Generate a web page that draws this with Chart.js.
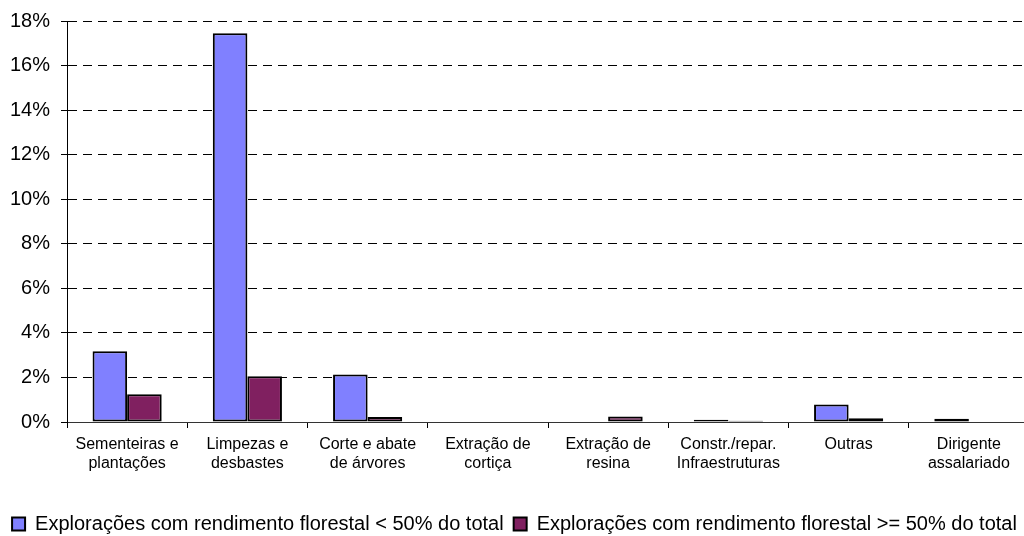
<!DOCTYPE html>
<html>
<head>
<meta charset="utf-8">
<script src="https://cdn.jsdelivr.net/npm/chart.js@4"></script>
<style>
  html, body { margin: 0; padding: 0; overflow: hidden; background: #fff; }
</style>
</head>
<body>
<canvas id="grafico" width="1032" height="544"></canvas>
<script>
// categorias (eixo x, duas linhas por etiqueta)
const categorias = [
    ["Sementeiras e", "plantações"],
    ["Limpezas e", "desbastes"],
    ["Corte e abate", "de árvores"],
    ["Extração de", "cortiça"],
    ["Extração de", "resina"],
    ["Constr./repar.", "Infraestruturas"],
    ["Outras"],
    ["Dirigente", "assalariado"]
];

// valores em %
const serieMenos50 = [3.18, 17.45, 2.13, 0, 0, 0.1, 0.78, 0.15];
const serieMais50  = [1.25, 2.05, 0.22, 0, 0.25, 0.06, 0.17, 0];

const nomesSeries = [
    "Explorações com rendimento florestal < 50% do total",
    "Explorações com rendimento florestal >= 50% do total"
];

// eixo y
const yMin = 0;
const yMax = 18;
const yPasso = 2;

const fonte = "'Liberation Sans', Arial, sans-serif";

const ctx = document.getElementById('grafico');

new Chart(ctx, {
    type: 'bar',
    data: {
        labels: categorias,
        datasets: [{
            label: nomesSeries[0],
            data: serieMenos50,
            backgroundColor: '#8080FF',
            borderColor: '#000',
            borderWidth: 2,
            borderSkipped: false,
            barPercentage: 1,
            categoryPercentage: 0.575
        }, {
            label: nomesSeries[1],
            data: serieMais50,
            backgroundColor: '#802060',
            borderColor: '#000',
            borderWidth: 2,
            borderSkipped: false,
            barPercentage: 1,
            categoryPercentage: 0.575
        }]
    },
    options: {
        responsive: false,
        animation: false,
        layout: {
            padding: { top: 16, right: 3, left: 0, bottom: 0 }
        },
        plugins: {
            tooltip: { enabled: false },
            legend: {
                position: 'bottom',
                labels: {
                    color: '#000',
                    font: { family: fonte, size: 20 },
                    boxWidth: 13,
                    boxHeight: 13,
                    padding: 10
                }
            }
        },
        scales: {
            x: {
                grid: {
                    offset: true,
                    drawOnChartArea: false,
                    drawTicks: true,
                    tickLength: 6,
                    color: '#000'
                },
                border: { display: true, color: '#333', width: 1 },
                ticks: {
                    color: '#000',
                    font: { family: fonte, size: 16 },
                    padding: 7,
                    maxRotation: 0,
                    autoSkip: false
                },
                afterFit: function (scale) {
                    scale.height = 82;
                }
            },
            y: {
                min: yMin,
                max: yMax,
                grid: {
                    color: '#000',
                    lineWidth: 1,
                    drawTicks: true,
                    tickLength: 6,
                    tickColor: '#000',
                    tickBorderDash: []
                },
                border: { display: true, color: '#000', width: 1, dash: [9, 6] },
                ticks: {
                    stepSize: yPasso,
                    color: '#000',
                    font: { family: fonte, size: 20, lineHeight: 1 },
                    padding: 11,
                    callback: v => v + '%'
                },
                afterFit: function (scale) {
                    scale.width = 67;
                }
            }
        }
    }
});
</script>
</body>
</html>
